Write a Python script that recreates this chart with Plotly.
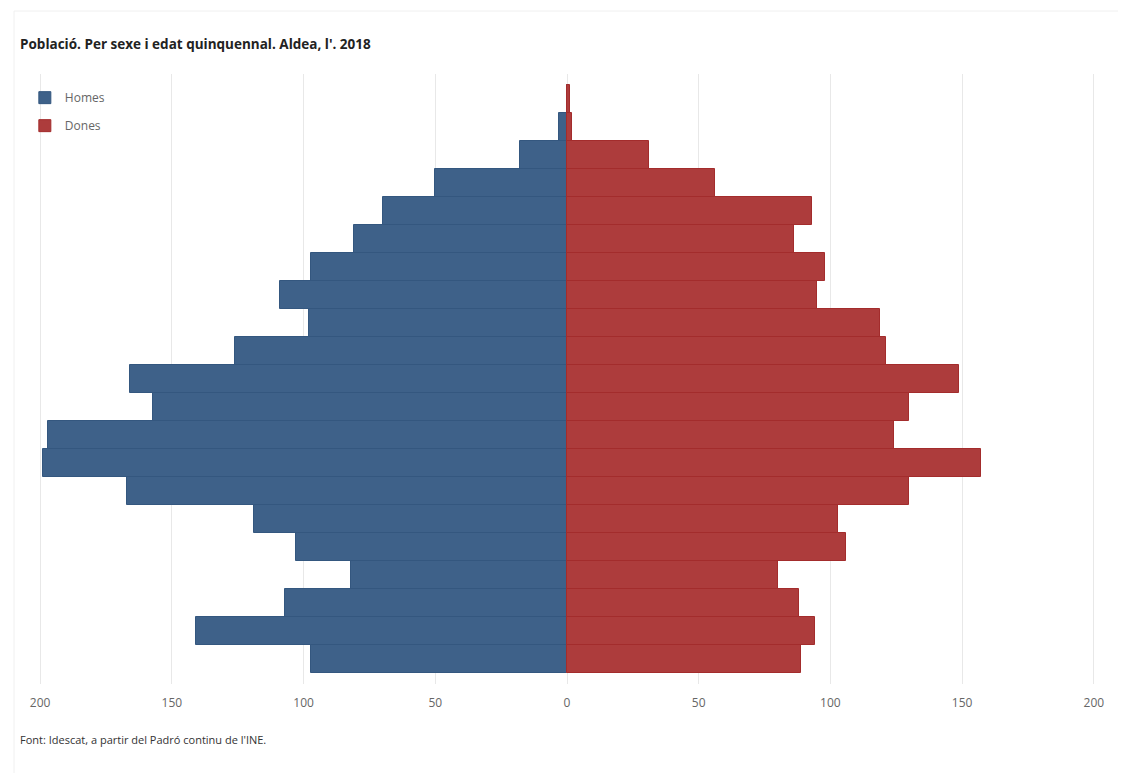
import plotly.graph_objects as go

age_groups = ["0-4", "5-9", "10-14", "15-19", "20-24", "25-29", "30-34", "35-39",
              "40-44", "45-49", "50-54", "55-59", "60-64", "65-69", "70-74", "75-79",
              "80-84", "85-89", "90-94", "95-99", "100 i més"]
homes = [97, 141, 107, 82, 103, 119, 167, 199, 197, 157, 166, 126, 98, 109, 97, 81, 70, 50, 18, 3, 0]
dones = [89, 94, 88, 80, 106, 103, 130, 157, 124, 130, 149, 121, 119, 95, 98, 86, 93, 56, 31, 2, 1]
tick_vals = [-200, -150, -100, -50, 0, 50, 100, 150, 200]
tick_text = ["200", "150", "100", "50", "0", "50", "100", "150", "200"]

ypos = list(range(len(age_groups)))

fig = go.Figure()
fig.add_trace(go.Bar(
    y=ypos, x=[-v for v in homes], orientation="h", name="Homes",
    marker=dict(color="#3e6189", line=dict(color="#34577f", width=1)),
    customdata=homes, text=age_groups,
    hovertemplate="%{text}: %{customdata}<extra>Homes</extra>",
    legendgroup="h",
))
fig.add_trace(go.Bar(
    y=ypos, x=dones, orientation="h", name="Dones",
    marker=dict(color="#ad3c3c", line=dict(color="#a32c2c", width=1)),
    text=age_groups,
    hovertemplate="%{text}: %{x}<extra>Dones</extra>",
    legendgroup="d",
))
fig.update_traces(textposition="none")

fig.update_layout(
    width=1126, height=773,
    margin=dict(l=19, r=27, t=66, b=97),
    paper_bgcolor="white", plot_bgcolor="white",
    barmode="overlay", bargap=0,
    font=dict(family="Open Sans", size=12, color="#666666"),
    title=dict(text="<b>Població. Per sexe i edat quinquennal. Aldea, l'. 2018</b>",
               x=12 / 1126, xanchor="left", xref="container",
               y=1 - 36 / 773, yanchor="middle", yref="container",
               font=dict(family="Open Sans", size=13.5, color="#222222")),
    xaxis=dict(range=[-205, 205], tickvals=tick_vals, ticktext=tick_text,
               showgrid=True, gridcolor="#e8e8e8", gridwidth=1,
               zeroline=False, showline=False, ticks="", ticklabelstandoff=10,
               tickfont=dict(size=12, color="#666666")),
    yaxis=dict(range=[-0.9, len(age_groups) - 0.1], showticklabels=False,
               showgrid=False, zeroline=False, showline=False),
    legend=dict(x=-0.002, y=0.985, xanchor="left", yanchor="top",
                traceorder="grouped", tracegroupgap=9,
                font=dict(size=12, color="#666666"), bgcolor="rgba(0,0,0,0)"),
    annotations=[dict(text="Font: Idescat, a partir del Padró continu de l'INE.",
                      xref="paper", yref="paper", x=-9 / 1080, y=-(738 - 683) / 610,
                      xanchor="left", yanchor="middle", showarrow=False,
                      font=dict(family="Open Sans", size=11, color="#333333"))],
    shapes=[
        dict(type="line", xref="paper", yref="paper",
             x0=-13 / 1080, x1=1.03, y0=1 + 63 / 610, y1=1 + 63 / 610,
             line=dict(color="#f0f0f0", width=1)),
        dict(type="line", xref="paper", yref="paper",
             x0=-13 / 1080, x1=-13 / 1080, y0=1 + 63 / 610, y1=-0.16,
             line=dict(color="#f0f0f0", width=1)),
    ],
    showlegend=True,
)

fig.write_html("out.html")
